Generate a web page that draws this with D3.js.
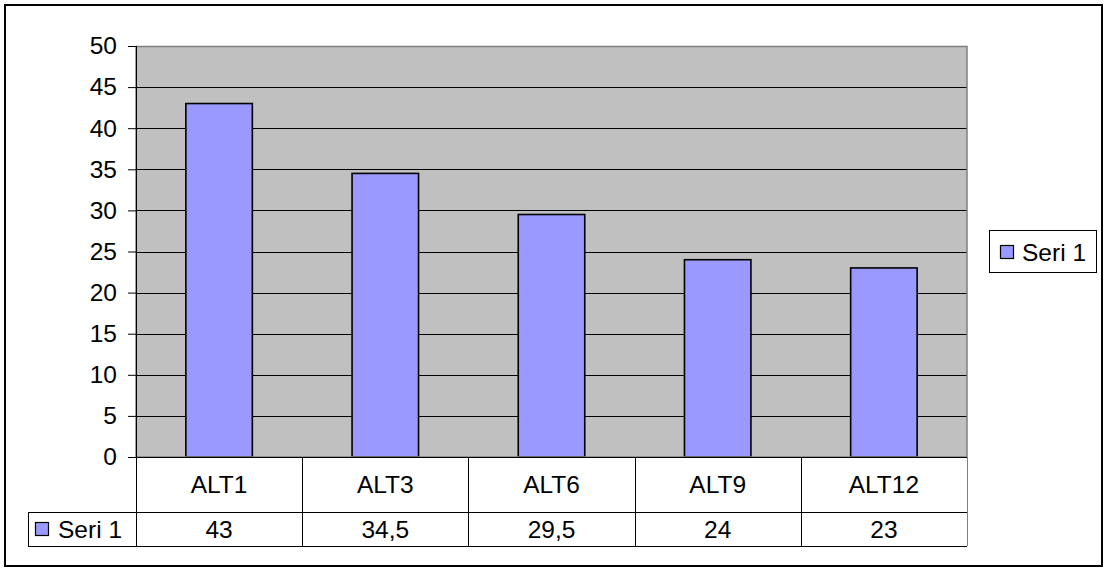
<!DOCTYPE html>
<html><head><meta charset="utf-8">
<script src="https://cdn.jsdelivr.net/npm/d3@7"></script>
<style>body{margin:0;background:#fff}svg{display:block}text{font-family:"Liberation Sans",Arial,sans-serif;fill:#000}</style>
</head><body><svg id="c" width="1104" height="568"></svg>
<script>
const categories = ["ALT1","ALT3","ALT6","ALT9","ALT12"];
const values = [43, 34.5, 29.5, 24, 23];
const valueLabels = ["43","34,5","29,5","24","23"];
const seriesName = "Seri 1";
const yTicks = [0,5,10,15,20,25,30,35,40,45,50];

const svg = d3.select("#c");
const fs = 24.5;
const L = 136, R = 967, T = 46, B = 457;
const rowCat = 512, rowVal = 546, tableLeft = 28;

svg.append("rect").attr("x",5).attr("y",5).attr("width",1097).attr("height",561)
  .attr("fill","#fff").attr("stroke","#000").attr("stroke-width",2);

const x = d3.scaleBand().domain(categories).range([L,R]).paddingInner(0).paddingOuter(0);
const y = d3.scaleLinear().domain([0,50]).range([B,T]);

svg.append("rect").attr("x",L).attr("y",T).attr("width",R-L).attr("height",B-T).attr("fill","#C0C0C0");

svg.append("g").selectAll("line").data(yTicks.filter(d=>d>0 && d<50)).join("line")
  .attr("x1",L).attr("x2",R).attr("y1",d=>Math.round(y(d))+0.5).attr("y2",d=>Math.round(y(d))+0.5)
  .attr("stroke","#000").attr("stroke-width",1);

const bw = x.bandwidth()*0.4;
svg.append("g").selectAll("rect").data(values).join("rect")
  .attr("x",(d,i)=>x(categories[i])+x.bandwidth()/2-bw/2)
  .attr("y",d=>y(d)).attr("width",bw).attr("height",d=>B-y(d))
  .attr("fill","#9999FF").attr("stroke","#000").attr("stroke-width",1.6);

// plot border (gray)
svg.append("rect").attr("x",L).attr("y",T+0.5).attr("width",R-L).attr("height",B-T-0.5)
  .attr("fill","none").attr("stroke","#808080").attr("stroke-width",1.5);

// y axis
const ax = svg.append("g").attr("transform",`translate(${L},0)`)
  .call(d3.axisLeft(y).tickValues(yTicks).tickSize(8).tickPadding(11).tickFormat(d3.format("d")));
ax.selectAll(".tick line").attr("stroke","#000");
ax.selectAll("text").attr("font-size",fs).attr("font-family",'"Liberation Sans",Arial,sans-serif').attr("fill","#000");
ax.select(".domain").remove();
svg.append("line").attr("x1",L+0.5).attr("x2",L+0.5).attr("y1",T).attr("y2",rowVal).attr("stroke","#000");

// data table
const tg = svg.append("g").attr("stroke","#000").attr("stroke-width",1);
tg.append("line").attr("x1",L).attr("x2",R).attr("y1",B+0.5).attr("y2",B+0.5);
tg.append("line").attr("x1",tableLeft).attr("x2",R).attr("y1",rowCat+0.5).attr("y2",rowCat+0.5);
tg.append("line").attr("x1",tableLeft).attr("x2",R).attr("y1",rowVal+0.5).attr("y2",rowVal+0.5);
tg.append("line").attr("x1",tableLeft+0.5).attr("x2",tableLeft+0.5).attr("y1",rowCat).attr("y2",rowVal);
tg.selectAll("line.v").data(categories.slice(1)).join("line").attr("class","v")
  .attr("x1",d=>Math.round(x(d))+0.5).attr("x2",d=>Math.round(x(d))+0.5).attr("y1",B).attr("y2",rowVal);
tg.append("line").attr("x1",R+0.5).attr("x2",R+0.5).attr("y1",B).attr("y2",rowVal).attr("stroke","#808080");

svg.append("g").selectAll("text").data(categories).join("text")
  .attr("x",d=>x(d)+x.bandwidth()/2).attr("y",(B+rowCat)/2).attr("dy","0.35em")
  .attr("text-anchor","middle").attr("font-size",fs).text(d=>d);
svg.append("g").selectAll("text").data(valueLabels).join("text")
  .attr("x",(d,i)=>x(categories[i])+x.bandwidth()/2).attr("y",(rowCat+rowVal)/2).attr("dy","0.35em")
  .attr("text-anchor","middle").attr("font-size",fs).text(d=>d);

// series key in table
svg.append("rect").attr("x",35.5).attr("y",522.5).attr("width",13).attr("height",13)
  .attr("fill","#9999FF").attr("stroke","#000").attr("stroke-width",1.2);
svg.append("text").attr("x",58).attr("y",(rowCat+rowVal)/2).attr("dy","0.35em").attr("font-size",fs).text(seriesName);

// legend
svg.append("rect").attr("x",989.5).attr("y",230.5).attr("width",107).attr("height",42)
  .attr("fill","#fff").attr("stroke","#000").attr("stroke-width",1);
svg.append("rect").attr("x",1000.5).attr("y",245.5).attr("width",13).attr("height",13)
  .attr("fill","#9999FF").attr("stroke","#000").attr("stroke-width",1.2);
svg.append("text").attr("x",1022).attr("y",252).attr("dy","0.35em").attr("font-size",fs).text(seriesName);
</script></body></html>
